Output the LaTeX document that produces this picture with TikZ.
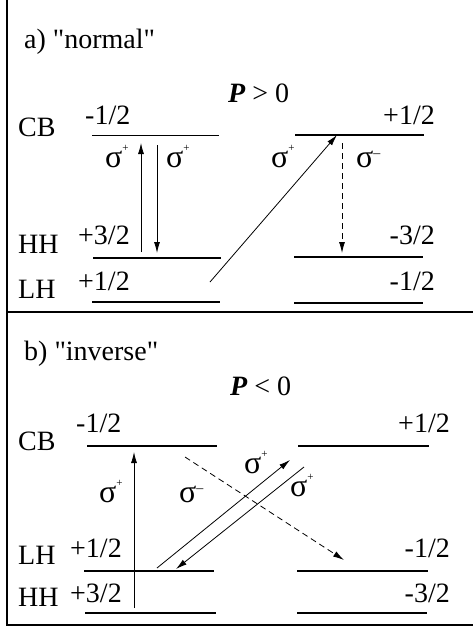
\documentclass[tikz,border=0pt]{standalone}
\usepackage{fontspec}
\setmainfont{Liberation Serif}[Ligatures=TeXOff]
\usetikzlibrary{arrows.meta}
\newcommand{\mySigP}{{\fontsize{32}{32}\selectfont σ}\raisebox{16pt}{\fontsize{11}{11}\selectfont +}}
\newcommand{\mySigM}{{\fontsize{32}{32}\selectfont σ}\raisebox{10pt}{\fontsize{14}{14}\selectfont –}}
\begin{document}
\begin{tikzpicture}[x=1pt,y=-1pt,
  lbl/.style={inner sep=0pt, font=\fontsize{28}{30}\selectfont},
  lvl/.style={line width=1.2pt},
  frame/.style={line width=1.6pt},
  tr/.style={line width=0.8pt, -{Latex[length=11pt,width=6pt]}},
  trd/.style={tr, dash pattern=on 6pt off 4pt},
]
\useasboundingbox (0,0) rectangle (473,629);
% frame
\draw[frame] (7,0) -- (7,625) -- (473,625);
\draw[line width=2pt] (7,312) -- (473,312);

% ---------- panel a ----------
\node[lbl, anchor=base west] (ta) at (24,48) {a) "normal"};
\node[lbl, anchor=base west] (pa) at (228,102) {\textbf{\textit{P}} > 0};
\node[lbl, anchor=base west] (aCB) at (18,136) {CB};
\node[lbl, anchor=base west] (aHH) at (18,253) {HH};
\node[lbl, anchor=base west] (aLH) at (18,298) {LH};
\node[lbl, anchor=base west] (a1) at (85,124) {-1/2};
\node[lbl, anchor=base east] (a2) at (435,124) {+1/2};
\node[lbl, anchor=base west] (a3) at (78,244) {+3/2};
\node[lbl, anchor=base east] (a4) at (435,244) {-3/2};
\node[lbl, anchor=base west] (a5) at (78,290) {+1/2};
\node[lbl, anchor=base east] (a6) at (435,290) {-1/2};
% levels
\draw[lvl] (92,135.5) -- (219,135.5);
\draw[lvl] (295,135) -- (424,135);
\draw[lvl] (93,258) -- (221,258);
\draw[lvl] (294,257) -- (423,257);
\draw[lvl] (92,302) -- (220,302);
\draw[lvl] (294,303) -- (423,303);
% transitions
\coordinate (aU0) at (141,252); \coordinate (aU1) at (141,143);
\coordinate (aD0) at (157,145); \coordinate (aD1) at (157,253);
\coordinate (aS0) at (210,282); \coordinate (aS1) at (337,135);
\coordinate (aM0) at (342,143); \coordinate (aM1) at (342,253);
\draw[tr] (aU0) -- (aU1);
\draw[tr] (aD0) -- (aD1);
\draw[tr] (aS0) -- (aS1);
\draw[trd] (aM0) -- (aM1);
\node[lbl, anchor=base west] (sa1) at (105,167) {\mySigP};
\node[lbl, anchor=base west] (sa2) at (166,167) {\mySigP};
\node[lbl, anchor=base west] (sa3) at (271,167) {\mySigP};
\node[lbl, anchor=base west] (sa4) at (356,167) {\mySigM};

% ---------- panel b ----------
\node[lbl, anchor=base west] (tb) at (24,360) {b) "inverse"};
\node[lbl, anchor=base west] (pb) at (230,395) {\textbf{\textit{P}} < 0};
\node[lbl, anchor=base west] (bCB) at (18,450) {CB};
\node[lbl, anchor=base west] (bLH) at (18,564) {LH};
\node[lbl, anchor=base west] (bHH) at (18,606) {HH};
\node[lbl, anchor=base west] (b1) at (76,432) {-1/2};
\node[lbl, anchor=base east] (b2) at (450,432) {+1/2};
\node[lbl, anchor=base west] (b3) at (70,557) {+1/2};
\node[lbl, anchor=base east] (b4) at (450,557) {-1/2};
\node[lbl, anchor=base west] (b5) at (70,602) {+3/2};
\node[lbl, anchor=base east] (b6) at (450,602) {-3/2};
% levels
\draw[lvl] (87,446) -- (217,446);
\draw[lvl] (298,446) -- (429,446);
\draw[lvl] (84,571) -- (214,571);
\draw[lvl] (297,571) -- (428,571);
\draw[lvl] (85,613) -- (216,613);
\draw[lvl] (297,613) -- (427,613);
% transitions
\coordinate (bU0) at (134,608); \coordinate (bU1) at (134,452);
\coordinate (bM0) at (185,457); \coordinate (bM1) at (344,560);
\coordinate (bA0) at (157,568); \coordinate (bA1) at (290,460);
\coordinate (bB0) at (304,467); \coordinate (bB1) at (176,569);
\draw[tr] (bU0) -- (bU1);
\draw[trd] (bM0) -- (bM1);
\draw[tr] (bA0) -- (bA1);
\draw[tr] (bB0) -- (bB1);
\node[lbl, anchor=base west] (sb1) at (99,502) {\mySigP};
\node[lbl, anchor=base west] (sb2) at (179,502) {\mySigM};
\node[lbl, anchor=base west] (sb3) at (244,473) {\mySigP};
\node[lbl, anchor=base west] (sb4) at (290,496) {\mySigP};
\end{tikzpicture}
\end{document}
